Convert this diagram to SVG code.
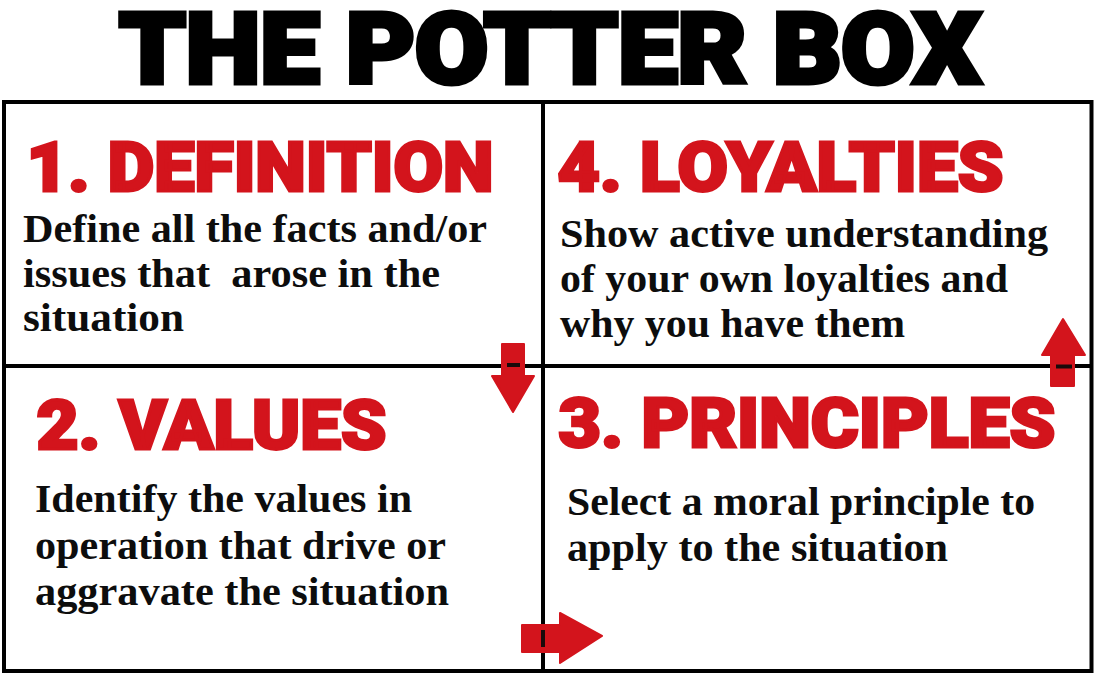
<svg xmlns="http://www.w3.org/2000/svg" width="1095" height="674" viewBox="0 0 1095 674">
  <style>
    .title { font-family: Roboto, Inter, "DejaVu Sans", sans-serif; font-weight: 900; font-size: 98px; fill: #000; stroke: #000; stroke-width: 5; stroke-linejoin: miter; stroke-miterlimit: 3; }
    .head { font-family: Roboto, Inter, "DejaVu Sans", sans-serif; font-weight: 900; font-size: 69px; fill: #d3141c; stroke: #d3141c; stroke-width: 3; stroke-linejoin: miter; stroke-miterlimit: 3; }
    .body { font-family: "Liberation Serif", "DejaVu Serif", serif; font-weight: bold; font-size: 39px; fill: #0d0d0d; white-space: pre; }
    .grid { stroke: #000; stroke-width: 4; fill: none; }
    .arrow { fill: #d3141c; stroke: #d3141c; stroke-width: 2; stroke-linejoin: round; }
    .dash { stroke: #1a0a0a; stroke-width: 4; }
  </style>
  <rect width="1095" height="674" fill="#fff"/>
  <text id="title" class="title" x="119" y="83" textLength="862" lengthAdjust="spacingAndGlyphs">THE POTTER BOX</text>
  <g id="frame">
    <rect class="grid" x="4" y="102" width="1087.5" height="569"/>
    <line class="grid" x1="543" y1="102" x2="543" y2="671"/>
    <line class="grid" x1="4" y1="366" x2="1091.5" y2="366"/>
  </g>
  <g id="definition">
    <text class="head" x="26.5" y="191" textLength="467" lengthAdjust="spacingAndGlyphs">1. DEFINITION</text>
    <text class="body" x="23" y="242" textLength="464" lengthAdjust="spacingAndGlyphs">Define all the facts and/or</text>
    <text class="body" x="23" y="287" textLength="417" lengthAdjust="spacingAndGlyphs">issues that  arose in the</text>
    <text class="body" x="23" y="331" textLength="161" lengthAdjust="spacingAndGlyphs">situation</text>
  </g>
  <g id="loyalties">
    <text class="head" x="557.5" y="191" textLength="446" lengthAdjust="spacingAndGlyphs">4. LOYALTIES</text>
    <text class="body" x="560" y="247" textLength="488" lengthAdjust="spacingAndGlyphs">Show active understanding</text>
    <text class="body" x="560" y="292" textLength="448" lengthAdjust="spacingAndGlyphs">of your own loyalties and</text>
    <text class="body" x="560" y="337" textLength="345" lengthAdjust="spacingAndGlyphs">why you have them</text>
  </g>
  <g id="values">
    <text class="head" x="36.5" y="449" textLength="350" lengthAdjust="spacingAndGlyphs">2. VALUES</text>
    <text class="body" x="35" y="512" textLength="377" lengthAdjust="spacingAndGlyphs">Identify the values in</text>
    <text class="body" x="35" y="559" textLength="411" lengthAdjust="spacingAndGlyphs">operation that drive or</text>
    <text class="body" x="35" y="605" textLength="414" lengthAdjust="spacingAndGlyphs">aggravate the situation</text>
  </g>
  <g id="principles">
    <text class="head" x="558.5" y="447" textLength="497" lengthAdjust="spacingAndGlyphs">3. PRINCIPLES</text>
    <text class="body" x="567" y="515" textLength="468" lengthAdjust="spacingAndGlyphs">Select a moral principle to</text>
    <text class="body" x="567" y="561" textLength="381" lengthAdjust="spacingAndGlyphs">apply to the situation</text>
  </g>
  <g id="connectors">
    <path class="arrow" d="M502,344 H524 V376 H534 L513,412 L492,376 H502 Z"/>
    <line class="dash" x1="507" y1="365" x2="520" y2="365"/>
    <path class="arrow" d="M522,625 H560 V613 L602,636 L560,663 V652 H522 Z"/>
    <line class="dash" x1="543" y1="630" x2="543" y2="647"/>
    <path class="arrow" d="M1051,386 V355 H1042 L1063,319 L1085,355 H1074 V386 Z"/>
    <line class="dash" x1="1056" y1="366.5" x2="1072" y2="366.5"/>
  </g>
</svg>
